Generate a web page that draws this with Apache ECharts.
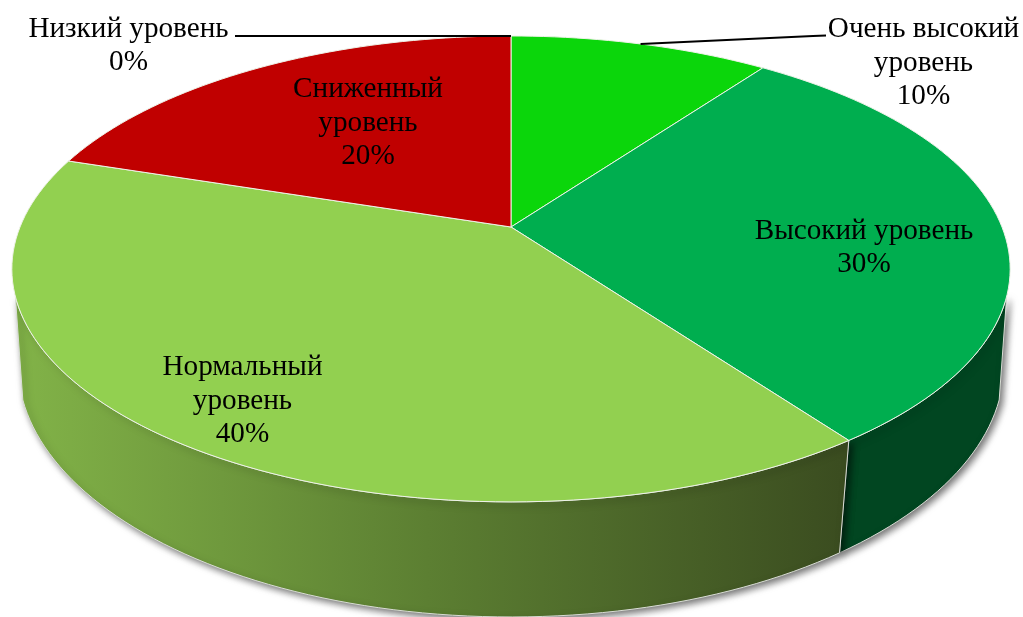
<!DOCTYPE html>
<html>
<head>
<meta charset="utf-8">
<style>
  html, body { margin: 0; padding: 0; background: #fff; }
  #pie3d { width: 1023px; height: 617px; }
</style>
<script src="https://cdn.jsdelivr.net/npm/echarts@6/dist/echarts.min.js"></script>
</head>
<body>
<div id="pie3d"></div>
<script>
// clockwise from 12 o'clock
var categories = ['Очень высокий\nуровень', 'Высокий уровень', 'Нормальный\nуровень', 'Сниженный\nуровень', 'Низкий уровень'];
var percents = [10, 30, 40, 20, 0];

var topColors = ['#0bd60b', '#00ae4f', '#92d050', '#c00000', '#000000'];
var sideColors = [
    '#0a8a0a',
    '#014621',
    new echarts.graphic.LinearGradient(15, 0, 840, 0, [
        { offset: 0, color: '#82b348' },
        { offset: 0.5, color: '#5c7f32' },
        { offset: 1, color: '#3b4d20' }
    ], true),
    '#7a0000',
    '#000000'
];

// centre of each label, in px
var labelX = [923.5, 864, 242.5, 368, 128.5];
var labelY = [63, 248, 401, 123, 46];

// rim projection: circle seen in perspective
var topRim = { cx: 511, cy: 227, rx: 491, ry: 225.4, k: 0.18 };
var lowRim = { cx: 511, cy: 324.7, rx: 486.6, ry: 245.5, k: 0.16 };
// the wall can only be seen between these angles
var wallFrom = 107, wallTo = 253;

var total = percents.reduce(function (a, b) { return a + b; }, 0);

function startAngle(i) {
    var sum = 0;
    for (var j = 0; j < i; j++) sum += percents[j];
    return sum / total * 360;
}

function rimPoint(rim, deg) {
    var a = deg * Math.PI / 180;
    var u = Math.sin(a), v = -Math.cos(a);
    var w = 1 - rim.k * v;
    return [rim.cx + rim.rx * u / w, rim.cy + rim.ry * v / w];
}

function rimPath(rim, from, to) {
    var pts = [];
    var n = Math.max(1, Math.ceil(Math.abs(to - from) / 1.5));
    for (var i = 0; i <= n; i++) pts.push(rimPoint(rim, from + (to - from) * i / n));
    return pts;
}

function renderWall(params, api) {
    var i = params.dataIndex;
    var from = Math.max(startAngle(i), wallFrom);
    var to = Math.min(startAngle(i) + api.value(0) / total * 360, wallTo);
    if (to <= from) return null;
    var pts = rimPath(topRim, from, to).concat(rimPath(lowRim, to, from));
    return {
        type: 'polygon',
        shape: { points: pts },
        style: {
            fill: sideColors[i],
            stroke: '#d8dcd4',
            lineWidth: 1,
            shadowColor: 'rgba(0,0,0,0.55)',
            shadowBlur: 7,
            shadowOffsetX: 3,
            shadowOffsetY: 3
        }
    };
}

function renderTop(params, api) {
    var i = params.dataIndex;
    var value = api.value(0);
    if (value === 0) return null;
    var from = startAngle(i);
    var pts = [[topRim.cx, topRim.cy]].concat(rimPath(topRim, from, from + value / total * 360));
    return {
        type: 'polygon',
        shape: { points: pts },
        style: { fill: topColors[i], stroke: '#eef2e8', lineWidth: 1 }
    };
}

function renderLabel(params, api) {
    var i = params.dataIndex;
    var value = api.value(0);
    var children = [{
        type: 'text',
        style: {
            text: categories[i] + '\n' + value + '%',
            x: labelX[i],
            y: labelY[i],
            align: 'center',
            verticalAlign: 'middle',
            font: '29.2px "Liberation Serif"',
            lineHeight: 33.5,
            fill: '#000'
        }
    }];
    // slices at the top get a leader line out to the label
    if (i === 0 || i === 4) {
        var mid = rimPoint(topRim, startAngle(i) + value / total * 180);
        var pts = i === 0 ? [[826, 35.5], [813, 36], mid] : [[235, 36], mid];
        children.push({
            type: 'polyline',
            shape: { points: pts },
            style: { stroke: '#000', lineWidth: 2, fill: null }
        });
    }
    return { type: 'group', children: children };
}

var chart = echarts.init(document.getElementById('pie3d'));

var option = {
    animation: false,
    series: [
        { type: 'custom', coordinateSystem: 'none', z: 1, data: percents, renderItem: renderWall },
        { type: 'custom', coordinateSystem: 'none', z: 2, data: percents, renderItem: renderTop },
        { type: 'custom', coordinateSystem: 'none', z: 3, data: percents, renderItem: renderLabel }
    ]
};
chart.setOption(option);
</script>
</body>
</html>
